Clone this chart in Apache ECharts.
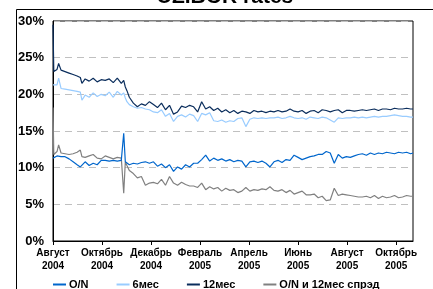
<!DOCTYPE html>
<html>
<head>
<meta charset="utf-8">
<script src="https://cdn.jsdelivr.net/npm/echarts@6/dist/echarts.min.js"></script>
<style>
  html, body { margin: 0; padding: 0; background: #fff; }
  #main { width: 433px; height: 289px; }
</style>
</head>
<body>
<div id="main"></div>
<script>
// days since 1 Aug 2004
const days = [0, 1, 5, 7, 10, 15, 20, 25, 30, 34, 36, 40, 45, 50, 55, 60, 65, 70, 75, 80, 85, 88, 90, 92, 95,
  100, 105, 110, 115, 120, 125, 130, 135, 140, 145, 150, 155, 160, 165, 170, 175, 180, 185, 190, 195,
  200, 205, 210, 215, 220, 225, 230, 235, 240, 245, 250, 255, 260, 265, 270, 275, 280, 285, 290, 295,
  300, 305, 310, 315, 320, 325, 330, 335, 340, 345, 350, 355, 360, 365, 370, 375, 380, 385, 390, 395,
  400, 405, 410, 415, 420, 425, 430, 435, 440, 445, 448];

const onRate = [11.3, 11.3, 11.6, 11.5, 11.5, 11.5, 11.2, 10.8, 10.4, 10.1, 10.2, 10.8, 10.3, 10.6, 10.4, 11.0, 11.0, 10.9, 11.0, 10.9, 11.0, 14.7, 10.8, 10.6, 10.4,
  10.6, 10.5, 10.7, 10.8, 10.6, 10.8, 10.2, 10.5, 10.0, 10.4, 9.5, 10.1, 9.8, 10.4, 10.1, 10.6, 10.6, 11.1, 11.7, 10.9,
  11.3, 11.0, 11.2, 10.9, 11.1, 10.8, 11.0, 10.9, 10.1, 10.8, 10.9, 10.7, 10.9, 10.6, 10.1, 10.8, 11.0, 10.7, 11.1, 11.0,
  11.7, 11.4, 11.1, 11.3, 11.5, 11.6, 11.8, 11.8, 12.2, 12.0, 10.6, 11.8, 11.3, 11.5, 11.4, 11.6, 11.8, 11.9, 11.7, 12.0,
  11.8, 12.0, 11.9, 12.1, 12.0, 11.9, 12.1, 12.0, 12.1, 11.9, 12.0];

const m6 = [21.3, 21.3, 21.3, 22.2, 20.8, 20.7, 20.6, 20.5, 20.4, 20.3, 19.2, 19.9, 19.6, 20.2, 19.7, 20.0, 19.8, 20.3, 19.6, 20.4, 19.9, 20.2, 19.5, 19.0, 18.6,
  18.3, 18.1, 18.2, 18.0, 17.9, 17.6, 17.5, 17.9, 17.0, 17.4, 16.3, 17.0, 17.2, 16.9, 17.3, 17.1, 16.3, 17.4, 17.2, 17.5,
  16.4, 16.3, 16.5, 16.2, 16.4, 16.3, 16.7, 16.8, 15.6, 16.6, 16.8, 16.7, 16.8, 16.7, 16.8, 16.8, 16.9, 16.7, 16.8, 17.0,
  16.8, 16.7, 16.8, 16.6, 16.9, 16.8, 16.7, 16.9, 16.8, 16.5, 16.2, 16.8, 16.7, 16.8, 16.8, 16.9, 16.8, 16.9, 16.8, 16.9,
  17.0, 16.9, 17.0, 17.0, 17.1, 17.2, 17.1, 17.0, 17.0, 16.9, 16.9];

const m12 = [29.5, 23.1, 23.4, 24.2, 23.3, 23.1, 22.9, 22.7, 22.5, 22.3, 21.5, 22.1, 21.8, 22.2, 21.7, 22.0, 21.9, 22.1, 21.6, 22.2, 21.5, 21.9, 21.0, 20.5, 19.6,
  18.8, 18.3, 18.7, 18.5, 19.0, 18.6, 18.2, 18.8, 17.9, 18.5, 17.3, 17.6, 18.4, 18.2, 18.5, 18.3, 17.6, 19.0, 18.0, 18.3,
  17.8, 18.1, 17.6, 17.9, 17.5, 17.8, 17.4, 17.7, 17.6, 17.4, 17.8, 17.6, 17.7, 17.5, 17.7, 17.6, 17.8, 17.6, 17.7, 18.0,
  17.7, 17.6, 17.8, 17.4, 17.7, 17.8, 17.5, 17.9, 17.8, 17.6, 17.8, 17.9, 17.5, 17.8, 17.8, 17.7, 17.8, 17.9, 17.8, 17.9,
  18.0, 17.8, 18.0, 18.0, 17.9, 18.1, 18.0, 18.0, 18.1, 18.0, 18.0];

const spread = [18.2, 11.8, 12.2, 13.1, 12.0, 11.9, 11.8, 11.9, 12.1, 12.4, 11.5, 11.4, 11.6, 11.8, 11.3, 11.2, 11.6, 11.4, 11.2, 11.4, 11.3, 6.5, 10.8, 10.3, 9.6,
  9.2, 8.6, 8.8, 7.6, 7.9, 8.0, 7.8, 8.4, 7.6, 8.8, 7.9, 7.6, 8.0, 7.7, 7.5, 7.5, 7.3, 7.9, 7.0, 7.4,
  7.1, 7.3, 6.8, 7.2, 6.9, 7.0, 6.6, 6.8, 7.3, 6.8, 7.0, 6.9, 7.1, 7.0, 7.4, 6.9, 6.8, 7.0, 6.6, 6.9,
  6.4, 6.6, 6.8, 6.3, 6.3, 6.4, 5.9, 6.1, 5.5, 5.6, 7.2, 6.2, 6.4, 6.3, 6.2, 6.1, 6.0, 6.0, 6.1, 5.9,
  6.2, 5.8, 6.1, 5.9, 6.0, 6.2, 5.9, 6.0, 6.2, 6.1, 6.1];

const tickLabels = ['Август\n2004', 'Октябрь\n2004', 'Декабрь\n2004', 'Февраль\n2005', 'Апрель\n2005',
  'Июнь\n2005', 'Август\n2005', 'Октябрь\n2005'];

const seriesNames = ['O/N', '6мес', '12мес', 'O/N и 12мес спрэд'];
const seriesColors = ['#0066CC', '#99CCFF', '#0A2D5C', '#808080'];

const pairs = arr => days.map((d, i) => [d, arr[i]]);
const values = [onRate, m6, m12, spread];

const chart = echarts.init(document.getElementById('main'), null, { renderer: 'canvas' });

const option = {
  animation: false,
  backgroundColor: '#fff',
  textStyle: { fontFamily: 'Liberation Sans, Arial, sans-serif' },
  graphic: [
    {
      type: 'rect',
      shape: { x: 16.5, y: 9.5, width: 440, height: 300 },
      style: { fill: 'none', stroke: '#000', lineWidth: 1 },
      silent: true
    },
    {
      type: 'text',
      x: 225, y: 8,
      style: {
        text: 'UZIBOR rates',
        font: 'bold 21px Liberation Sans, Arial, sans-serif',
        fill: '#000',
        textAlign: 'center',
        textVerticalAlign: 'bottom'
      }
    }
  ],
  grid: {
    left: 53, right: 20, top: 21, bottom: 48,
    show: true, borderColor: '#000', borderWidth: 1
  },
  legend: {
    left: 48, top: 274,
    itemWidth: 13, itemHeight: 2, itemGap: 28,
    icon: 'rect',
    textStyle: { fontWeight: 'bold', fontSize: 11, color: '#000', padding: [0, 0, 0, -2] },
    data: seriesNames
  },
  xAxis: {
    type: 'value',
    min: 0, max: 448, interval: 61,
    axisLine: { lineStyle: { color: '#000' } },
    axisTick: { show: true, length: 4, lineStyle: { color: '#000' } },
    splitLine: { show: false },
    axisLabel: {
      showMaxLabel: false,
      fontWeight: 'bold', fontSize: 10, color: '#000', lineHeight: 13, margin: 6,
      formatter: v => tickLabels[Math.round(v / 61)] || ''
    }
  },
  yAxis: {
    type: 'value',
    min: 0, max: 30, interval: 5,
    axisLine: { show: true, lineStyle: { color: '#000' } },
    axisTick: { show: false },
    splitLine: { show: true, lineStyle: { color: '#C0C0C0', type: [7, 5] } },
    axisLabel: { fontWeight: 'bold', fontSize: 13, color: '#000', margin: 9, formatter: '{value}%' }
  },
  series: seriesNames.map((name, i) => ({
    name: name,
    type: 'line',
    data: pairs(values[i]),
    symbol: 'none',
    color: seriesColors[i],
    lineStyle: { width: 1.2, color: seriesColors[i] },
    z: i === 3 ? 1 : 2
  }))
};

chart.setOption(option);
</script>
</body>
</html>
